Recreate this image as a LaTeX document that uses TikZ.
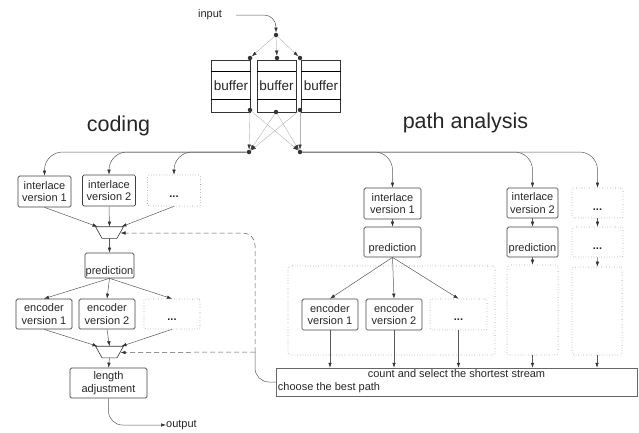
\documentclass[tikz,border=0pt]{standalone}
\usepackage{fontspec}
\setmainfont{Liberation Sans}
\usetikzlibrary{arrows.meta}

\newcommand{\lowered}[2]{\raisebox{-#1}[0pt][0pt]{#2}}

\tikzset{
	blk/.style={draw=black!75, rounded corners=1.5pt, line width=0.7pt, align=center, inner sep=0pt, font=\fontsize{11}{12.5}\selectfont, text=black!85},
	dotblk/.style={draw=black!40, dotted, rounded corners=2pt, line width=0.6pt, inner sep=0pt, align=center, font=\fontsize{11}{12.5}\selectfont\bfseries, text=black!85},
	std/.style={minimum width=53pt, minimum height=31pt},
	buf/.style={draw=black!80, line width=0.6pt, minimum width=39pt, minimum height=52pt, inner sep=0pt, font=\fontsize{13.5}{14}\selectfont, text=black!85},
	pt/.style={circle, fill=black!80, inner sep=0pt, minimum size=4.5pt},
	muxline/.style={draw=black!80, line width=0.6pt, line join=round},
	flow/.style={draw=black!65, line width=0.5pt, -{Latex[length=5pt,width=3.5pt,color=black!80]}},
	thinflow/.style={draw=black!30, line width=0.4pt, -{Latex[length=5pt,width=3.5pt,color=black!80]}},
	fb/.style={dash pattern=on 5pt off 3pt},
	lbl/.style={font=\fontsize{11}{12.5}\selectfont, text=black!85, inner sep=0pt},
	title/.style={font=\fontsize{21.5}{24}\selectfont, text=black!85, inner sep=0pt}
}

\begin{document}
\begin{tikzpicture}[x=1pt,y=-1pt]
\useasboundingbox (0,0) rectangle (639,432);
% input and the three buffers
\node[lbl] (input) at (210,15) {input};
\node[pt] (d0) at (276,35) {};
\node[buf] (b1) at (231,86) {buffer};
\node[buf] (b2) at (276.5,86) {buffer};
\node[buf] (b3) at (321,86) {buffer};
\foreach \b in {b1,b2,b3}{
	\draw[line width=1.3pt] ([yshift=-12pt]\b.north west) -- ([yshift=-12pt]\b.north east);
	\draw[line width=1.3pt] ([yshift=13pt]\b.south west) -- ([yshift=13pt]\b.south east);
}
\node[pt] (t1) at (250,58) {};
\node[pt] (t2) at (277,58) {};
\node[pt] (t3) at (300,58) {};
\node[pt] (u1) at (250,110) {};
\node[pt] (u2) at (276,112) {};
\node[pt] (u3) at (300,110) {};
\node[pt] (m1) at (249,152) {};
\node[pt] (m2) at (300,152) {};
\draw[flow, rounded corners=12pt] ([xshift=14pt]input.east) -| (d0);
\foreach \s in {t1,t2,t3}
	\draw[thinflow] (d0) -- (\s);
\foreach \s in {u1,u2,u3}{
	\foreach \m in {m1,m2}
		\draw[thinflow] (\s) -- (\m);
}

% the two selectors
\foreach \m/\y in {mux1/232.5,mux2/352}{
	\coordinate (\m) at (109.5,\y);
	\draw[muxline] ([shift={(-14,-5.8)}]\m) -- ([shift={(14,-5.8)}]\m) -- ([shift={(7.5,5.8)}]\m) -- ([shift={(-7.5,5.8)}]\m) -- cycle;
	\coordinate (\m-n) at ([shift={(0,-5.8)}]\m);
	\coordinate (\m-nw) at ([shift={(-12,-5.8)}]\m);
	\coordinate (\m-ne) at ([shift={(12,-5.8)}]\m);
	\coordinate (\m-e) at ([shift={(11,0.5)}]\m);
	\coordinate (\m-s) at ([shift={(0,5.8)}]\m);
}

% coding side
\node[title, anchor=base] (coding) at (118.5,131) {coding};
\node[blk, std] (il1) at (44.5,191.5) {interlace\\version 1};
\node[blk, std] (il2) at (109,190.5) {interlace\\version 2};
\node[dotblk, std] (ild) at (174,190.5) {\lowered{7pt}{...}};
\node[blk, minimum width=49pt, minimum height=25pt] (pl) at (109.5,265.5) {\lowered{9pt}{prediction}};
\node[blk, minimum width=56pt, minimum height=30pt] (el1) at (44,314) {encoder\\version 1};
\node[blk, minimum width=56pt, minimum height=30pt] (el2) at (107,314) {encoder\\version 2};
\node[dotblk, minimum width=56pt, minimum height=30pt] (eld) at (172,314) {\lowered{6pt}{...}};
\node[blk, minimum width=77pt, minimum height=30pt] (la) at (108.5,383) {length\\adjustment};
\node[lbl, anchor=west] (out) at (166,425) {output};
\foreach \n in {il1,il2,ild}
	\draw[flow, rounded corners=18pt] (m1) -| (\n);
\draw[flow] (il1.south) -- (mux1-nw);
\draw[flow] (il2.south) -- (mux1-n);
\draw[flow] (ild.south) -- (mux1-ne);
\draw[flow] (mux1-s) -- (pl.north);
\draw[flow] (pl.south) -- (el1.north);
\draw[flow] (pl.south) -- (el2.north);
\draw[flow] (pl.south) -- (eld.north);
\draw[flow] (el1.south) -- (mux2-nw);
\draw[flow] (el2.south) -- (mux2-n);
\draw[flow] (eld.south) -- (mux2-ne);
\draw[flow] (mux2-s) -- (la.north);
\draw[flow, rounded corners=14pt] (la.south) |- (out.west);

% path analysis side
\node[title, anchor=base] (path) at (465.5,128) {path analysis};
\node[blk, minimum width=57pt, minimum height=31pt] (ir1) at (392.5,203.5) {interlace\\version 1};
\node[blk, minimum width=57pt, minimum height=30pt] (pr1) at (392.5,242) {\lowered{9pt}{prediction}};
\node[dotblk, minimum width=207pt, minimum height=89pt] (grp1) at (391.5,310.5) {};
\node[blk, minimum width=56pt, minimum height=31pt] (er1) at (330,314.5) {encoder\\version 1};
\node[blk, minimum width=56pt, minimum height=31pt] (er2) at (394,314.5) {encoder\\version 2};
\node[dotblk, minimum width=57pt, minimum height=31pt] (erd) at (458.5,314.5) {\lowered{6pt}{...}};
\node[blk, minimum width=51pt, minimum height=30pt] (ir2) at (532.5,203) {interlace\\version 2};
\node[blk, minimum width=51pt, minimum height=30pt] (pr2) at (532.5,242) {\lowered{9pt}{prediction}};
\node[dotblk, minimum width=51pt, minimum height=90pt] (grp2) at (532.5,310) {};
\node[dotblk, minimum width=51pt, minimum height=30pt] (ird1) at (597.5,203) {\lowered{7pt}{...}};
\node[dotblk, minimum width=51pt, minimum height=30pt] (ird2) at (597.5,242) {\lowered{7pt}{...}};
\node[dotblk, minimum width=50pt, minimum height=88pt] (grp3) at (597,311) {};
\node[draw=black!60, line width=0.5pt, minimum width=361pt, minimum height=28pt, inner sep=0pt] (cnt) at (456.5,382) {};
\node[lbl, anchor=north] (cnttxt) at ([yshift=-2pt]cnt.north) {count and select the shortest stream};
\node[lbl, anchor=south west] (best) at ([xshift=2pt,yshift=3pt]cnt.south west) {choose the best path};
\foreach \n in {ir1,ir2,ird1}
	\draw[flow, rounded corners=18pt] (m2) -| (\n);
\draw[flow] (ir1) -- (pr1);
\draw[flow] (pr1.south) -- (er1.north);
\draw[flow] (pr1.south) -- (er2.north);
\draw[flow] (pr1.south) -- (erd.north);
\draw[flow] (ir2) -- (pr2);
\draw[flow] (pr2) -- (grp2);
\draw[flow] (ird1) -- (ird2);
\draw[flow] (ird2) -- (grp3);
\foreach \n in {er1,er2,erd,grp2,grp3}
	\draw[flow] (\n) -- (\n |- cnt.north);

% feedback of the chosen path
\coordinate (dj) at (255,352);
\draw[draw=black!65, line width=0.5pt, rounded corners=14pt] (cnt.west) -| (dj);
\draw[flow, fb, rounded corners=12pt] (dj) |- (mux1-e);
\draw[flow, fb] (dj) -- (mux2-e);

\end{tikzpicture}
\end{document}
